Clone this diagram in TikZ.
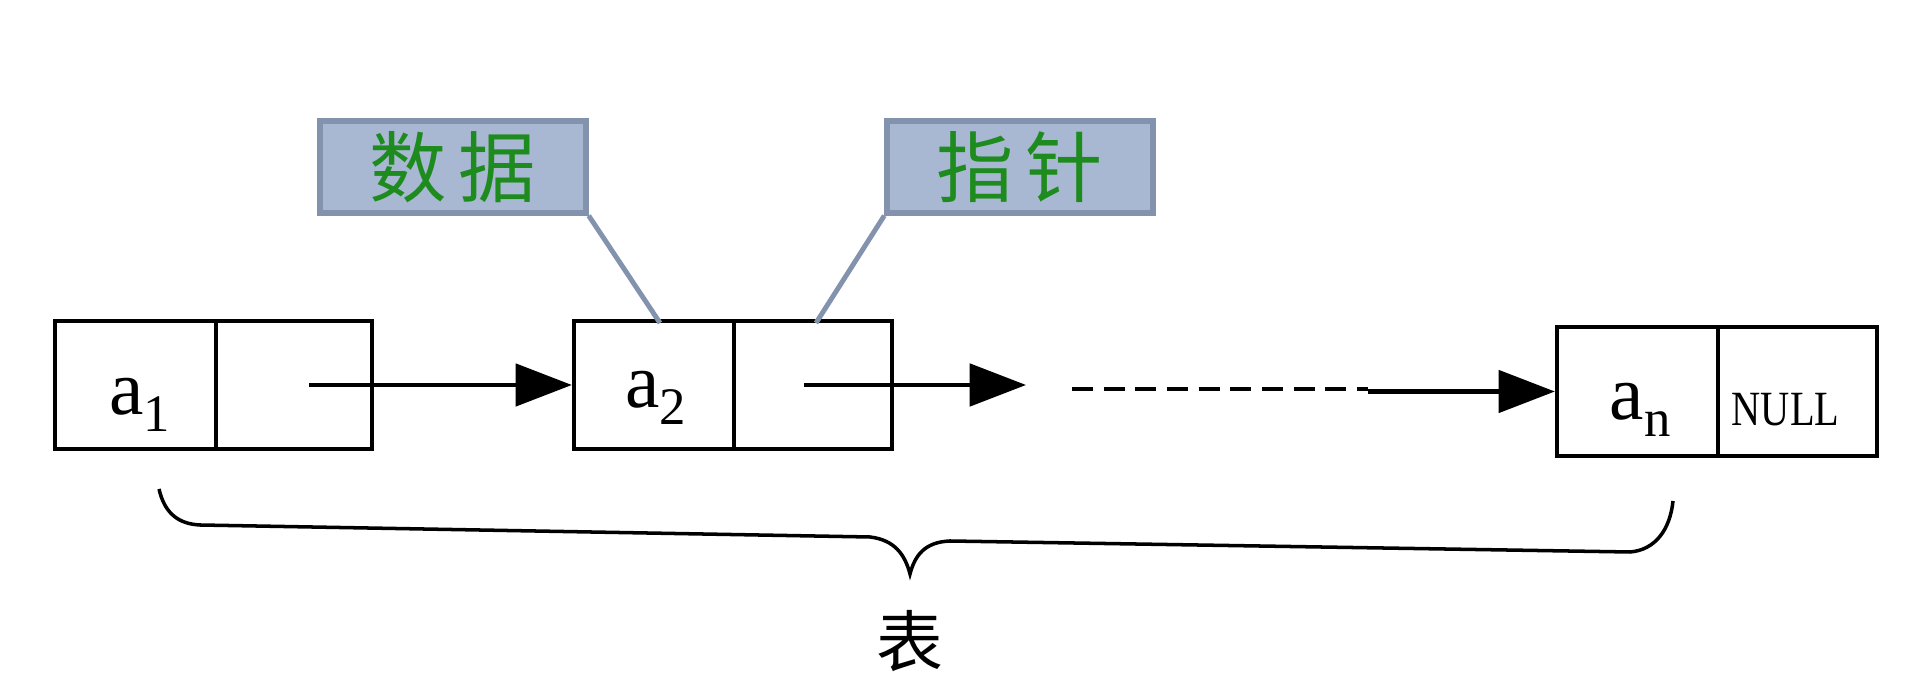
\documentclass[tikz,border=0pt]{standalone}
\usepackage{fontspec}
\setmainfont{Liberation Serif}
\newfontfamily\cjk{Noto Sans CJK SC}
\usetikzlibrary{arrows.meta}
\definecolor{lblfill}{HTML}{A9B8D2}
\definecolor{lbldraw}{HTML}{8393AE}
\definecolor{lbltext}{HTML}{1E8B1E}
\newcommand{\elem}[1]{a\raisebox{-5pt}{\fontsize{15}{15}\selectfont #1}}
\begin{document}
\begin{tikzpicture}[x=0.01cm,y=-0.01cm,
  cell/.style={draw,line width=1.2pt,minimum height=1.28cm,inner sep=0pt},
  celltext/.style={inner sep=0pt,font=\fontsize{22}{22}\selectfont},
  tag/.style={draw=lbldraw,fill=lblfill,line width=1.5pt,minimum width=2.66cm,minimum height=0.92cm,inner sep=0pt,font=\cjk\fontsize{22}{22}\selectfont\color{lbltext}},
  link/.style={line width=1.2pt,-{Triangle[length=16pt,width=12pt]}},
  callout/.style={draw=lbldraw,line width=1.4pt}]
\useasboundingbox (0,0) rectangle (1915,686);
% nodes
\node[cell,minimum width=1.61cm] (d1) at (135.5,385) {};
\node[cell,minimum width=1.56cm] (p1) at (294,385) {};
\node[cell,minimum width=1.60cm] (d2) at (654,385) {};
\node[cell,minimum width=1.58cm] (p2) at (813,385) {};
\node[cell,minimum width=1.61cm,minimum height=1.29cm] (dn) at (1637.5,391.5) {};
\node[cell,minimum width=1.59cm,minimum height=1.29cm] (pn) at (1797.5,391.5) {};
% texts
\node[celltext] (t1) at (140,405) {\elem{1}};
\node[celltext] (t2) at (656,398) {\elem{2}};
\node[celltext] (tn) at (1640,410) {\elem{n}};
\node[celltext,font=\fontsize{14}{14}\selectfont,anchor=west] (tnull) at (1731,410) {\scalebox{0.82}[1]{NULL}};
% tags
\node[tag] (tag1) at (453,167) {数\hspace{0.15em}据};
\node[tag] (tag2) at (1020,167) {指\hspace{0.15em}针};
\coordinate (c1) at (660,323);
\coordinate (c2) at (816,323);
\draw[callout] (tag1.south east) -- (c1);
\draw[callout] (tag2.south west) -- (c2);
% links
\coordinate (s1) at (309,385);
\coordinate (s2) at (804,385);
\coordinate (e2) at (1026,385);
\coordinate (ds) at (1072,389);
\coordinate (de) at (1368,389);
\coordinate (m) at (1368,391.5);
\draw[link] (s1) -- (d2.west);
\draw[link] (s2) -- (e2);
\draw[line width=1.2pt,dash pattern=on 6pt off 3pt] (ds) -- (de);
\draw[link] (m) -- (dn.west);
% brace
\draw[line width=1pt] (159,489) .. controls (165,515) and (180,524) .. (200,525)
  -- (870,537) .. controls (895,540) and (905,555) .. (910,574)
  .. controls (915,555) and (925,542) .. (950,541)
  -- (1630,552) .. controls (1655,550) and (1670,530) .. (1673,501);
\node[inner sep=0pt,font=\cjk\fontsize{19}{19}\selectfont] (biao) at (910,641) {表};
\end{tikzpicture}
\end{document}
